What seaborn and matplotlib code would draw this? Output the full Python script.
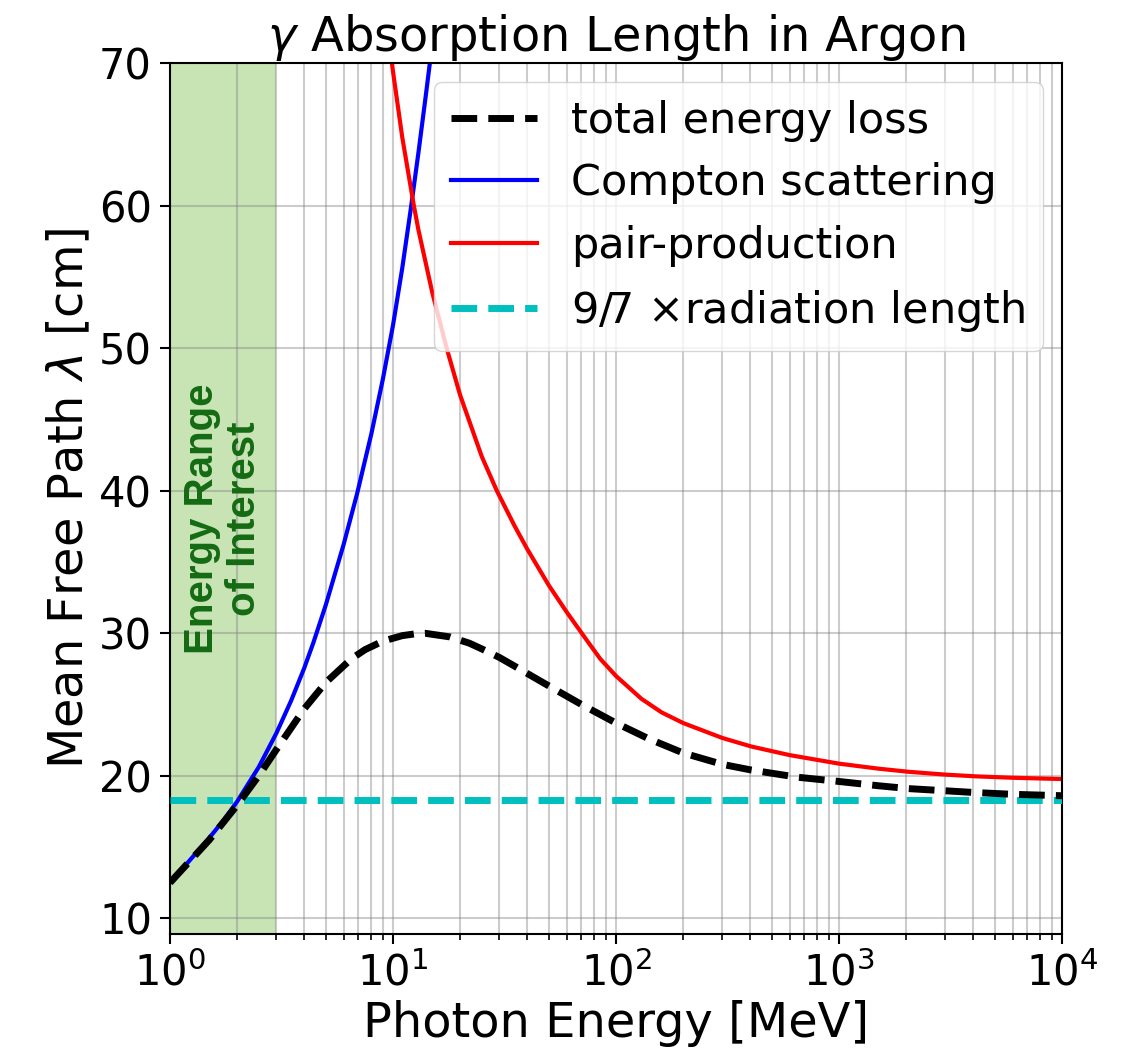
import numpy as np
import pandas as pd
import matplotlib
matplotlib.use("Agg")
import matplotlib.pyplot as plt
import seaborn as sns
from matplotlib.ticker import LogLocator, NullFormatter

# ---------------- data ----------------
compton_E = [1.0, 1.2, 1.5, 1.75, 2.0, 2.5, 3.0, 3.5, 4.0, 4.4, 5.0, 6.0, 6.9, 8.0, 9.0, 10.0, 11.0,
             12.0, 13.0, 14.0, 15.0]
compton_L = [12.5, 13.9, 15.64, 16.94, 18.19, 20.61, 22.99, 25.3, 27.56, 29.36, 32.0, 36.2, 39.78, 44.0,
             47.8, 51.6, 55.6, 59.7, 63.7, 67.6, 71.35]

pair_E = [9.8, 10.0, 11.0, 12.4, 13.0, 15.0, 17.4, 20.0, 25.0, 29.2, 35.0, 40.0, 50.0, 60.0, 74.0, 85.0,
          100.0, 130.0, 160.0, 200.0, 300.0, 405.0, 600.0, 1000.0, 1500.0, 2048.0, 3000.0, 4100.0,
          6000.0, 10000.0]
pair_L = [70.5, 69.4, 64.8, 60.0, 58.3, 53.9, 50.0, 46.7, 42.4, 40.0, 37.56, 35.9, 33.35, 31.5, 29.5, 28.2,
          27.0, 25.4, 24.45, 23.7, 22.65, 22.05, 21.45, 20.85, 20.5, 20.28, 20.08, 19.96, 19.86, 19.77]

total_E = [1.0, 1.5, 2.0, 2.5, 3.0, 4.0, 5.0, 6.5, 7.5, 9.0, 11.0, 12.5, 14.0, 18.0, 22.0, 25.0, 30.0,
           35.0, 50.0, 70.0, 100.0, 140.0, 200.0, 300.0, 405.0, 650.0, 1000.0, 1500.0, 2048.0, 4100.0,
           6000.0, 10000.0]
total_L = [12.5, 15.5, 17.94, 20.0, 21.84, 24.7, 26.55, 28.2, 28.85, 29.44, 29.83, 29.95, 29.99, 29.74,
           29.3, 28.9, 28.3, 27.7, 26.3, 25.0, 23.7, 22.6, 21.6, 20.8, 20.4, 19.9, 19.6, 19.3, 19.1,
           18.82, 18.7, 18.6]

rad_len = 18.3            # 9/7 x radiation length [cm]
roi = (1.0, 3.0)          # energy range of interest [MeV]

labels = ["total energy loss", "Compton scattering", "pair-production", r"9/7 $\times$radiation length"]
title = r"$\gamma$ Absorption Length in Argon"
xlabel = "Photon Energy [MeV]"
ylabel = r"Mean Free Path $\lambda$ [cm]"

# ---------------- figure ----------------
plt.rcParams["font.family"] = ["DejaVu Sans"]
plt.rcParams["axes.axisbelow"] = "line"

fig = plt.figure(figsize=(11.27, 10.61), dpi=100)
ax = fig.add_axes([170 / 1127, 1 - 934 / 1061, (1062 - 170) / 1127, (934 - 63) / 1061])

ax.axvspan(roi[0], roi[1], color="#77bb44", alpha=0.4, lw=0, zorder=1)

sns.lineplot(x=total_E, y=total_L, ax=ax, color="k", lw=5, ls="--", label=labels[0], zorder=3)
sns.lineplot(x=compton_E, y=compton_L, ax=ax, color="b", lw=3, label=labels[1], zorder=2.5)
sns.lineplot(x=pair_E, y=pair_L, ax=ax, color="r", lw=3, label=labels[2], zorder=2.5)
ax.axhline(rad_len, color="c", lw=5, ls="--", label=labels[3], zorder=2.8)

ax.set_xscale("log")
ax.set_xlim(1, 1e4)
ax.set_ylim(8.9, 70)
ax.set_yticks([10, 20, 30, 40, 50, 60, 70])
ax.xaxis.set_minor_locator(LogLocator(base=10, subs=np.arange(2, 10), numticks=20))
ax.xaxis.set_minor_formatter(NullFormatter())

ax.grid(True, which="both", axis="x", color="gray", alpha=0.4, lw=1.5)
ax.grid(True, which="major", axis="y", color="gray", alpha=0.4, lw=1.5)

ax.tick_params(which="major", length=7, width=1.5, labelsize=30, pad=6)
ax.tick_params(which="minor", length=4, width=1.2)
for s in ax.spines.values():
    s.set_linewidth(1.5)

ax.set_title(title, fontsize=34.5, pad=8)
ax.set_xlabel(xlabel, fontsize=34.5)
ax.set_ylabel(ylabel, fontsize=34.5)

ax.text(np.sqrt(roi[0] * roi[1]), 38, "Energy Range\nof Interest", rotation=90,
        ha="center", va="center", fontsize=29, fontweight="bold", color="#136b13",
        family=["Liberation Sans", "DejaVu Sans"], linespacing=1.15, zorder=4)

leg = ax.legend(loc="upper right", fontsize=31, framealpha=0.8, borderaxespad=0.45,
                handletextpad=0.8, labelspacing=0.48)
leg.set_zorder(5)

fig.savefig("out.png", dpi=100)
